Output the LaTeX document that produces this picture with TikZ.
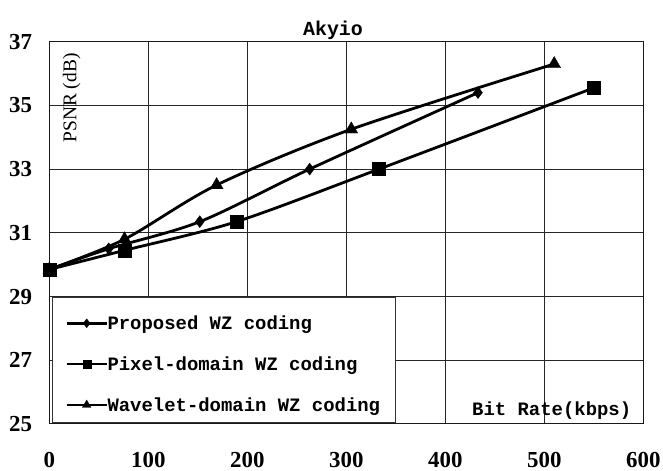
\documentclass[tikz,border=0pt]{standalone}
\usepackage{fontspec}
\setmainfont{Liberation Serif}
\newfontfamily\monofont{Liberation Mono}
\usetikzlibrary{plotmarks}

\begin{document}
\begin{tikzpicture}[
  x=1bp, y=1bp,
  gridline/.style={draw=black!85, line width=0.8bp},
  frame/.style={draw=black!90, line width=1bp},
  curve/.style={line width=2.8bp, smooth, tension=0.5, mark options={line width=0.3bp, fill=black}},
  proposed/.style={mark=diamond*, mark size=6bp},
  pixel/.style={mark=square*, mark size=6.5bp},
  wavelet/.style={mark=triangle*, mark size=7.5bp},
  legendbox/.style={draw=black!80, fill=white, line width=0.8bp, inner sep=0pt, anchor=south west, minimum width=343.3bp, minimum height=125bp},
  tick/.style={font=\fontsize{23}{25}\selectfont\bfseries, inner sep=0pt},
  txt/.style={font=\fontsize{19}{22}\selectfont\monofont\bfseries, inner sep=0pt}
]
\useasboundingbox (0,0) rectangle (663,471);

% plot area in data units (kbps, dB)
\begin{scope}[x=0.99bp, y=31.86bp, shift={(49.3bp,-749.5bp)}]
  \foreach \k in {100,200,...,500}
    \draw[gridline] (\k,25) -- (\k,37);
  \foreach \d in {27,29,...,35}
    \draw[gridline] (0,\d) -- (600,\d);
\end{scope}

% legend
\node[legendbox] (legend) at (51.7,47.7) {};

\begin{scope}[x=0.99bp, y=31.86bp, shift={(49.3bp,-749.5bp)}]
  \draw[frame] (0,25) rectangle (600,37);
  \draw[curve] plot[proposed] coordinates {(0,29.85) (60,30.5) (152,31.35) (263,33) (433,35.4)};
  \draw[curve] plot[pixel] coordinates {(0,29.85) (76,30.45) (189,31.35) (333,33) (550,35.55)};
  \draw[curve] plot[wavelet] coordinates {(0,29.85) (76,30.8) (169,32.5) (305,34.25) (510,36.3)};
\end{scope}

% legend entries
\draw[curve, proposed, mark size=4.5bp, mark indices={2}] plot coordinates {(66.7,147.7) (86.7,147.7) (106.7,147.7)};
\node[txt, anchor=base west] (lprop) at (107.3,141) {Proposed WZ coding};
\draw[curve, pixel, mark size=4bp, mark indices={2}] plot coordinates {(66.7,107) (86.7,107) (106.7,107)};
\node[txt, anchor=base west] (lpix) at (107.3,100.3) {Pixel-domain WZ coding};
\draw[curve, wavelet, mark size=5bp, mark indices={2}] plot coordinates {(66.7,66) (86.7,66) (106.7,66)};
\node[txt, anchor=base west] (lwav) at (107.3,59.3) {Wavelet-domain WZ coding};

% axis ticks
\foreach \k in {0,100,...,600}
  \node[tick] (x\k) at ({49.3+0.99*\k},11) {\k};
\foreach \d in {25,27,...,37}
  \node[tick] (y\d) at (20.5,{47+(\d-25)*31.86}) {\d};

% titles
\node[txt, font=\fontsize{20}{22}\selectfont\monofont\bfseries, anchor=base] (title) at (333,435.1) {Akyio};
\node[txt, anchor=base] (xlab) at (551.7,55) {Bit Rate(kbps)};
\node[font=\fontsize{19.5}{22}\selectfont, inner sep=0pt, rotate=90] (ylab) at (71.7,373) {PSNR (dB)};
\end{tikzpicture}
\end{document}
